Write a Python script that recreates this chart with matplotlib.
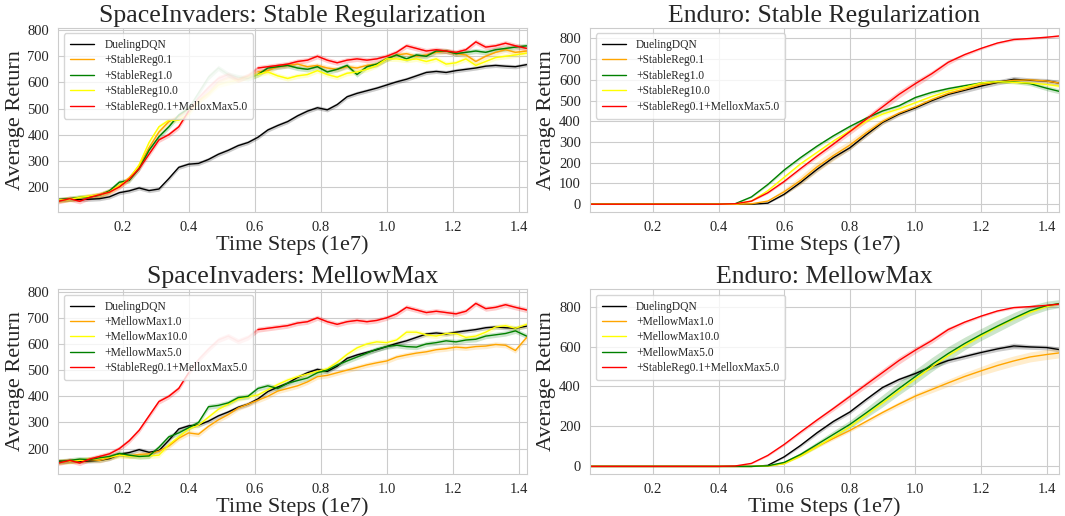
import numpy as np
import matplotlib
matplotlib.use('Agg')
import matplotlib.pyplot as plt
import seaborn as sns

sns.set_style('whitegrid')
plt.rcParams['font.family'] = ['Liberation Serif', 'DejaVu Serif']

# ---------------- data (time steps in 1e7) ----------------
si_steps = [0.005, 0.04, 0.07, 0.10, 0.13, 0.16, 0.19, 0.22, 0.25, 0.28, 0.31, 0.34,
            0.37, 0.40, 0.43, 0.46, 0.49, 0.52, 0.55, 0.58, 0.61, 0.64, 0.67, 0.70,
            0.73, 0.76, 0.79, 0.82, 0.85, 0.88, 0.91, 0.94, 0.97, 1.00, 1.03, 1.06,
            1.09, 1.12, 1.15, 1.18, 1.21, 1.24, 1.27, 1.30, 1.33, 1.36, 1.39, 1.424]

si_dueling = [152, 153, 152, 153, 155, 162, 178, 185, 196, 186, 192, 232,
              275, 287, 290, 305, 325, 340, 358, 370, 390, 418, 435, 450,
              472, 490, 503, 495, 515, 545, 558, 568, 578, 590, 602, 612,
              625, 638, 642, 638, 645, 650, 655, 662, 665, 662, 660, 668]
si_stable01 = [148, 155, 158, 165, 170, 185, 205, 235, 280, 350, 410, 450,
               470, 500, 525, 560, 600, 615, 610, 625, 640, 645, 660, 665,
               670, 660, 665, 655, 650, 660, 655, 665, 670, 690, 705, 710,
               700, 705, 715, 720, 710, 705, 680, 700, 715, 725, 715, 720]
si_stable1 = [150, 155, 160, 162, 168, 185, 218, 225, 270, 340, 392, 430,
              475, 500, 560, 620, 655, 630, 620, 615, 630, 655, 660, 665,
              655, 650, 660, 640, 650, 665, 630, 660, 670, 690, 705, 690,
              705, 700, 720, 720, 710, 715, 720, 715, 725, 730, 735, 740]
si_stable10 = [150, 152, 160, 165, 170, 180, 205, 230, 285, 370, 430, 455,
               455, 480, 530, 555, 590, 600, 610, 620, 630, 640, 625, 615,
               625, 630, 645, 630, 620, 635, 640, 650, 665, 690, 690, 685,
               690, 680, 690, 670, 675, 690, 665, 680, 695, 700, 705, 712]
si_stable_mellow = [145, 155, 145, 160, 170, 180, 200, 230, 270, 325, 380, 400,
                    430, 490, 540, 580, 615, 630, 610, 625, 655, 660, 665, 670,
                    680, 685, 700, 685, 675, 685, 690, 685, 690, 700, 715, 740,
                    730, 720, 725, 720, 715, 725, 755, 735, 740, 750, 740, 730]
si_mellow1 = [150, 152, 155, 158, 155, 165, 175, 172, 178, 180, 190, 210,
              240, 260, 255, 285, 310, 330, 355, 370, 385, 400, 420, 430,
              440, 455, 475, 480, 490, 500, 510, 520, 528, 535, 550, 558,
              565, 570, 578, 582, 588, 585, 590, 592, 598, 595, 575, 625]
si_mellow10 = [150, 152, 155, 160, 162, 168, 175, 172, 170, 172, 175, 215,
               245, 275, 290, 320, 350, 370, 390, 398, 405, 425, 445, 462,
               475, 485, 495, 505, 530, 560, 585, 600, 608, 605, 615, 645,
               645, 635, 630, 640, 640, 625, 630, 645, 665, 670, 660, 675]
si_mellow5 = [150, 155, 160, 158, 165, 170, 182, 175, 170, 172, 205, 245,
              260, 280, 300, 360, 365, 375, 395, 400, 430, 440, 430, 450,
              460, 470, 490, 500, 520, 535, 550, 565, 580, 590, 595, 590,
              588, 600, 605, 612, 608, 615, 618, 630, 635, 640, 650, 630]

en_steps = [0.008, 0.05, 0.10, 0.15, 0.20, 0.25, 0.30, 0.35, 0.40, 0.45,
            0.50, 0.55, 0.60, 0.65, 0.70, 0.75, 0.80, 0.85, 0.90, 0.95,
            1.00, 1.05, 1.10, 1.15, 1.20, 1.25, 1.30, 1.35, 1.40, 1.438]

en_dueling = [0, 0, 0, 0, 0, 0, 0, 0, 0, 0,
              0, 5, 48, 105, 168, 225, 272, 335, 395, 435,
              465, 500, 530, 550, 570, 588, 603, 598, 595, 585]
en_stable01 = [0, 0, 0, 0, 0, 0, 0, 0, 0, 0,
               2, 15, 60, 115, 180, 235, 285, 345, 400, 440,
               470, 505, 535, 555, 578, 590, 598, 600, 595, 585]
en_stable1 = [0, 0, 0, 0, 0, 0, 0, 0, 0, 2,
              35, 95, 165, 225, 280, 330, 375, 415, 450, 475,
              515, 540, 558, 572, 585, 592, 590, 582, 560, 545]
en_stable10 = [0, 0, 0, 0, 0, 0, 0, 0, 0, 0,
               15, 65, 130, 195, 250, 305, 355, 400, 435, 460,
               490, 520, 545, 565, 585, 592, 588, 585, 578, 570]
en_stable_mellow = [0, 0, 0, 0, 0, 0, 0, 0, 0, 2,
                    15, 55, 110, 172, 232, 290, 350, 410, 470, 530,
                    582, 630, 685, 722, 752, 778, 795, 800, 806, 812]
en_mellow1 = [0, 0, 0, 0, 0, 0, 0, 0, 0, 0,
              0, 2, 15, 55, 100, 140, 180, 225, 270, 312,
              352, 385, 418, 450, 478, 505, 528, 548, 560, 568]
en_mellow10 = [0, 0, 0, 0, 0, 0, 0, 0, 0, 0,
               0, 2, 14, 52, 98, 148, 198, 258, 318, 378,
               438, 498, 555, 605, 652, 698, 738, 772, 800, 815]
en_mellow5 = [0, 0, 0, 0, 0, 0, 0, 0, 0, 0,
              0, 3, 20, 60, 110, 160, 210, 268, 328, 390,
              450, 510, 565, 615, 660, 702, 742, 780, 805, 815]

# half widths of the shaded bands
en_band_dueling = [0, 0, 0, 0, 0, 0, 0, 0, 0, 0,
                   0, 2, 5, 8, 10, 10, 10, 10, 10, 10,
                   10, 12, 12, 12, 12, 12, 14, 12, 12, 12]
en_band_stable01 = [0, 0, 0, 0, 0, 0, 0, 0, 0, 0,
                    1, 5, 15, 22, 25, 25, 22, 20, 15, 10,
                    8, 8, 8, 8, 8, 8, 8, 8, 8, 8]
en_band_stable1 = [0, 0, 0, 0, 0, 0, 0, 0, 0, 1,
                   4, 6, 8, 8, 8, 8, 8, 8, 8, 8,
                   8, 8, 8, 8, 8, 8, 8, 10, 12, 12]
en_band_stable10 = [0, 0, 0, 0, 0, 0, 0, 0, 0, 0,
                    3, 6, 8, 8, 8, 8, 8, 8, 8, 8,
                    8, 8, 8, 8, 8, 8, 8, 8, 8, 8]
en_band_stable_mellow = [0, 0, 0, 0, 0, 0, 0, 0, 0, 1,
                         3, 5, 6, 8, 10, 12, 14, 16, 18, 18,
                         16, 14, 12, 8, 6, 6, 6, 6, 6, 6]
en_band_mellow1 = [0, 0, 0, 0, 0, 0, 0, 0, 0, 0,
                   0, 1, 4, 6, 8, 8, 8, 10, 10, 12,
                   14, 16, 18, 20, 22, 25, 25, 25, 25, 25]
en_band_mellow10 = [0, 0, 0, 0, 0, 0, 0, 0, 0, 0,
                    0, 1, 3, 5, 6, 6, 6, 6, 6, 6,
                    6, 6, 6, 6, 6, 6, 6, 6, 6, 6]
en_band_mellow5 = [0, 0, 0, 0, 0, 0, 0, 0, 0, 0,
                   0, 2, 6, 10, 14, 18, 20, 25, 30, 32,
                   35, 35, 35, 32, 30, 30, 28, 25, 22, 20]

si_band_dueling = 8
si_band_other = 10

si_yticks = [200, 300, 400, 500, 600, 700, 800]
en_sr_yticks = [0, 100, 200, 300, 400, 500, 600, 700, 800]
en_mm_yticks = [0, 200, 400, 600, 800]
x_ticks = [0.2, 0.4, 0.6, 0.8, 1.0, 1.2, 1.4]


def draw(ax, steps, curves, title, xlim, ylim, yticks):
	x = np.array(steps)
	for label, vals, color, band, pale in curves:
		y = np.array(vals, dtype=float)
		b = np.broadcast_to(np.array(band, dtype=float), y.shape)
		ax.fill_between(x, y - b, y + b, color=color, alpha=0.2, lw=0)
		if pale:
			# mean line only faintly visible between 0.4 and 0.6
			ax.plot(x, y, color=color, lw=1.0, alpha=0.25)
			y = np.where((x > 0.4) & (x < 0.6), np.nan, y)
		ax.plot(x, y, color=color, lw=1.0, label=label)

	ax.set_xlim(*xlim)
	ax.set_ylim(*ylim)
	ax.set_xticks(x_ticks)
	ax.set_xticklabels(['%.1f' % t for t in x_ticks])
	ax.set_yticks(yticks)
	ax.tick_params(labelsize=10.5, colors='.15', pad=3)
	ax.set_title(title, fontsize=18.5, color='.15', pad=4)
	ax.set_xlabel('Time Steps (1e7)', fontsize=16, color='.15', labelpad=1)
	ax.set_ylabel('Average Return', fontsize=16, color='.15', labelpad=2)
	ax.legend(loc='upper left', fontsize=8.3, labelspacing=0.3, handlelength=2.1,
	          handletextpad=0.9, borderaxespad=0.5, borderpad=0.5, frameon=True)


fig = plt.figure(figsize=(10.65, 5.16), dpi=100)
ax1 = fig.add_axes([0.0547, 0.5886, 0.4398, 0.3581])
ax2 = fig.add_axes([0.5540, 0.5886, 0.4404, 0.3581])
ax3 = fig.add_axes([0.0547, 0.0814, 0.4398, 0.3585])
ax4 = fig.add_axes([0.5540, 0.0814, 0.4404, 0.3585])

draw(ax1, si_steps, [
	('DuelingDQN', si_dueling, 'black', si_band_dueling, False),
	('+StableReg0.1', si_stable01, 'orange', si_band_other, True),
	('+StableReg1.0', si_stable1, 'green', si_band_other, True),
	('+StableReg10.0', si_stable10, 'yellow', si_band_other, True),
	('+StableReg0.1+MelloxMax5.0', si_stable_mellow, 'red', si_band_other, True),
], 'SpaceInvaders: Stable Regularization', (0.005, 1.424), (103, 810), si_yticks)

draw(ax2, en_steps, [
	('DuelingDQN', en_dueling, 'black', en_band_dueling, False),
	('+StableReg0.1', en_stable01, 'orange', en_band_stable01, False),
	('+StableReg1.0', en_stable1, 'green', en_band_stable1, False),
	('+StableReg10.0', en_stable10, 'yellow', en_band_stable10, False),
	('+StableReg0.1+MelloxMax5.0', en_stable_mellow, 'red', en_band_stable_mellow, False),
], 'Enduro: Stable Regularization', (0.008, 1.438), (-39, 853), en_sr_yticks)

draw(ax3, si_steps, [
	('DuelingDQN', si_dueling, 'black', si_band_dueling, False),
	('+MellowMax1.0', si_mellow1, 'orange', si_band_other, False),
	('+MellowMax10.0', si_mellow10, 'yellow', si_band_other, False),
	('+MellowMax5.0', si_mellow5, 'green', si_band_other, False),
	('+StableReg0.1+MelloxMax5.0', si_stable_mellow, 'red', si_band_other, True),
], 'SpaceInvaders: MellowMax', (0.005, 1.424), (103, 810), si_yticks)

draw(ax4, en_steps, [
	('DuelingDQN', en_dueling, 'black', en_band_dueling, False),
	('+MellowMax1.0', en_mellow1, 'orange', en_band_mellow1, False),
	('+MellowMax10.0', en_mellow10, 'yellow', en_band_mellow10, False),
	('+MellowMax5.0', en_mellow5, 'green', en_band_mellow5, False),
	('+StableReg0.1+MelloxMax5.0', en_stable_mellow, 'red', en_band_stable_mellow, False),
], 'Enduro: MellowMax', (0.008, 1.438), (-38, 888), en_mm_yticks)

fig.savefig('out.png', dpi=100)
